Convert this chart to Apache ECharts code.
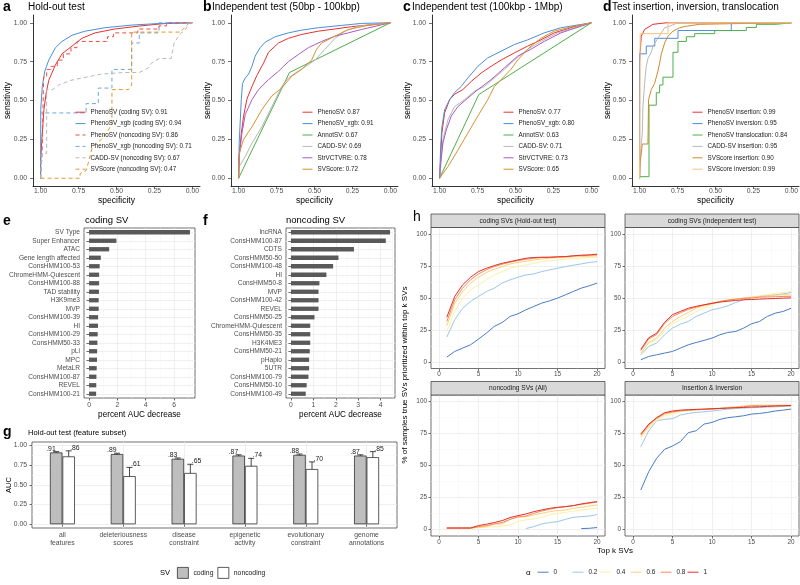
<!DOCTYPE html>
<html><head><meta charset="utf-8">
<script src="https://cdn.jsdelivr.net/npm/echarts@6.0.0/dist/echarts.min.js"></script>
<style>html,body{margin:0;padding:0;background:#fff}#c{width:800px;height:585px}</style>
</head><body><div id="c"></div>
<script>
// ---------------- DATA ----------------
const rocTicks = [0, 0.25, 0.5, 0.75, 1];
// Panel a
const aNames = ['PhenoSV (coding SV): 0.91','PhenoSV_xgb (coding SV): 0.94','PhenoSV (noncoding SV): 0.86','PhenoSV_xgb (noncoding SV): 0.71','CADD-SV (noncoding SV): 0.67','SVScore (noncoding SV): 0.47'];
const a_phenoCoding = [[1,0],[1,0.10],[0.993,0.23],[0.978,0.44],[0.963,0.55],[0.946,0.63],[0.902,0.73],[0.859,0.80],[0.793,0.85],[0.728,0.90],[0.641,0.935],[0.511,0.96],[0.359,0.978],[0.185,0.995],[0,1]];
const a_xgbCoding = [[1,0],[0.999,0.44],[0.989,0.59],[0.972,0.69],[0.946,0.76],[0.902,0.84],[0.859,0.88],[0.793,0.92],[0.707,0.946],[0.576,0.968],[0.402,0.985],[0.207,0.996],[0,1]];
const a_phenoNoncoding = [[1,0],[0.99,0],[0.99,0.16],[0.98,0.16],[0.98,0.65],[0.96,0.65],[0.96,0.70],[0.93,0.70],[0.93,0.72],[0.89,0.72],[0.89,0.76],[0.85,0.76],[0.85,0.80],[0.80,0.80],[0.80,0.84],[0.76,0.84],[0.76,0.88],[0.56,0.88],[0.56,0.91],[0.52,0.91],[0.52,0.935],[0.36,0.935],[0.36,0.96],[0.22,0.96],[0.22,0.98],[0.17,0.98],[0.17,1],[0,1]];
const a_xgbNoncoding = [[1,0],[1,0.42],[0.70,0.42],[0.70,0.48],[0.62,0.48],[0.62,0.58],[0.53,0.58],[0.53,0.70],[0.40,0.70],[0.40,0.87],[0.35,0.87],[0.35,0.935],[0.22,0.935],[0.22,1],[0,1]];
const a_caddNoncoding = [[1,0],[0.99,0],[0.99,0.16],[0.96,0.16],[0.96,0.57],[0.92,0.57],[0.88,0.60],[0.80,0.63],[0.70,0.65],[0.60,0.67],[0.45,0.68],[0.35,0.68],[0.29,0.71],[0.27,0.74],[0.22,0.77],[0.14,0.77],[0.12,0.87],[0.08,0.93],[0.05,0.95],[0.02,1],[0,1]];
const a_svscoreNoncoding = [[1,0],[0.74,0],[0.74,0.03],[0.70,0.05],[0.68,0.12],[0.66,0.20],[0.60,0.25],[0.56,0.30],[0.53,0.35],[0.53,0.57],[0.42,0.57],[0.40,0.60],[0.40,0.94],[0.08,0.94],[0.04,0.98],[0.02,1],[0,1]];
// Panel b
const bNames = ['PhenoSV: 0.87','PhenoSV_xgb: 0.91','AnnotSV: 0.67','CADD-SV: 0.69','StrVCTVRE: 0.78','SVScore: 0.72'];
const b_pheno = [[1,0],[0.996,0.14],[0.982,0.29],[0.967,0.40],[0.945,0.51],[0.912,0.59],[0.880,0.66],[0.836,0.74],[0.803,0.81],[0.737,0.87],[0.672,0.90],[0.584,0.925],[0.475,0.946],[0.365,0.96],[0.256,0.975],[0,1]];
const b_xgb = [[1,0],[0.996,0.23],[0.982,0.51],[0.974,0.61],[0.956,0.645],[0.934,0.67],[0.912,0.72],[0.891,0.785],[0.858,0.84],[0.825,0.875],[0.759,0.91],[0.672,0.935],[0.584,0.953],[0.475,0.968],[0.322,0.983],[0.190,0.996],[0,1]];
const b_annot = [[1,0],[0.665,0.68],[0,1]];
const b_cadd = [[1,0],[0.996,0.075],[0.956,0.14],[0.912,0.226],[0.847,0.33],[0.781,0.46],[0.716,0.59],[0.672,0.645],[0.606,0.69],[0.540,0.73],[0.497,0.76],[0.431,0.83],[0.365,0.90],[0.300,0.946],[0.212,0.978],[0,1]];
const b_strv = [[1,0],[0.996,0.14],[0.978,0.29],[0.956,0.41],[0.912,0.505],[0.869,0.57],[0.803,0.634],[0.737,0.688],[0.672,0.75],[0.606,0.796],[0.540,0.84],[0.453,0.88],[0.365,0.914],[0.278,0.935],[0.190,0.957],[0,1]];
const b_svscore = [[1,0],[0.996,0.16],[0.967,0.25],[0.912,0.33],[0.847,0.44],[0.781,0.53],[0.716,0.58],[0.650,0.656],[0.584,0.70],[0.519,0.76],[0.486,0.83],[0.453,0.87],[0.365,0.914],[0.278,0.957],[0.147,0.983],[0,1]];
// Panel c
const cNames = ['PhenoSV: 0.77','PhenoSV_xgb: 0.80','AnnotSV: 0.63','CADD-SV: 0.71','StrVCTVRE: 0.73','SVScore: 0.65'];
const c_pheno = [[1,0],[0.993,0.12],[0.985,0.29],[0.967,0.42],[0.934,0.505],[0.902,0.54],[0.847,0.57],[0.790,0.624],[0.726,0.677],[0.661,0.72],[0.595,0.76],[0.508,0.806],[0.420,0.85],[0.333,0.89],[0.245,0.935],[0.114,0.974],[0,1]];
const c_xgb = [[1,0],[0.993,0.20],[0.985,0.33],[0.967,0.44],[0.934,0.505],[0.902,0.55],[0.858,0.59],[0.814,0.645],[0.748,0.72],[0.683,0.774],[0.595,0.817],[0.508,0.86],[0.420,0.89],[0.311,0.935],[0.201,0.968],[0,1]];
const c_annot = [[1,0],[0.742,0.538],[0,1]];
const c_cadd = [[1,0],[0.993,0.075],[0.978,0.25],[0.945,0.376],[0.902,0.46],[0.836,0.505],[0.770,0.56],[0.705,0.59],[0.639,0.645],[0.573,0.70],[0.508,0.76],[0.420,0.83],[0.333,0.88],[0.223,0.935],[0.114,0.968],[0,1]];
const c_strv = [[1,0],[0.993,0.097],[0.978,0.226],[0.956,0.31],[0.923,0.40],[0.880,0.46],[0.814,0.516],[0.748,0.57],[0.661,0.634],[0.573,0.71],[0.486,0.785],[0.398,0.83],[0.311,0.88],[0.201,0.935],[0,1]];
const c_svscore = [[1,0],[0.993,0],[0.945,0.075],[0.880,0.18],[0.814,0.29],[0.748,0.40],[0.683,0.505],[0.639,0.59],[0.595,0.634],[0.530,0.70],[0.486,0.76],[0.442,0.806],[0.398,0.85],[0.333,0.90],[0.245,0.946],[0.114,0.978],[0,1]];
// Panel d
const dNames = ['PhenoSV insertion: 0.99','PhenoSV inversion: 0.95','PhenoSV translocation: 0.84','CADD-SV insertion: 0.95','SVScore insertion: 0.90','SVScore inversion: 0.99'];
const d_phenoIns = [[1,0],[1,0.75],[0.996,0.81],[0.989,0.914],[0.967,0.957],[0.912,0.99],[0.824,1],[0,1]];
const d_phenoInv = [[1,0],[1,0.80],[0.956,0.80],[0.956,0.85],[0.90,0.85],[0.90,0.90],[0.747,0.90],[0.747,0.95],[0.396,0.95],[0.396,1],[0,1]];
const d_phenoTra = [[1,0.01],[0.938,0.01],[0.938,0.47],[0.890,0.47],[0.890,0.55],[0.868,0.55],[0.868,0.60],[0.846,0.60],[0.846,0.65],[0.780,0.65],[0.780,0.81],[0.747,0.81],[0.747,0.88],[0.692,0.88],[0.692,0.91],[0.637,0.91],[0.637,0.93],[0.505,0.93],[0.505,0.95],[0.297,0.95],[0.297,0.97],[0.231,0.97],[0.231,0.99],[0.1,0.99],[0.1,1],[0,1]];
const d_caddIns = [[1,0],[0.996,0.12],[0.990,0.21],[0.982,0.29],[0.978,0.46],[0.967,0.61],[0.956,0.72],[0.945,0.77],[0.923,0.81],[0.912,0.85],[0.879,0.90],[0.857,0.935],[0.835,0.968],[0.802,0.978],[0.758,0.996],[0,1]];
const d_svscoreIns = [[1,0],[0.996,0.10],[0.982,0.22],[0.945,0.22],[0.941,0.505],[0.923,0.57],[0.901,0.61],[0.879,0.69],[0.868,0.74],[0.857,0.80],[0.835,0.87],[0.813,0.914],[0.780,0.946],[0.736,0.968],[0.692,0.978],[0.604,0.99],[0.297,0.996],[0,1]];
const d_svscoreInv = [[1,0],[0.996,0],[0.996,0.93],[0.813,0.93],[0.813,1],[0,1]];
// Panel e
const eCats = ['SV Type','Super Enhancer','ATAC','Gene length affected','ConsHMM100-53','ChromeHMM-Quiescent','ConsHMM100-88','TAD stability','H3K9me3','MVP','ConsHMM100-39','HI','ConsHMM100-29','ConsHMM50-33','pLi','MPC','MetaLR','ConsHMM100-87','REVEL','ConsHMM100-21'];
const eVals = [7.12,1.93,1.42,0.83,0.75,0.71,0.71,0.70,0.68,0.68,0.64,0.63,0.61,0.59,0.57,0.56,0.54,0.52,0.51,0.50];
const eTicks = [0,2,4,6];
// Panel f
const fCats = ['lncRNA','ConsHMM100-87','CDTS','ConsHMM50-50','ConsHMM100-48','HI','ConsHMM50-8','MVP','ConsHMM100-42','REVEL','ConsHMM50-25','ChromeHMM-Quiescent','ConsHMM50-35','H3K4ME3','ConsHMM50-21','pHaplo','5UTR','ConsHMM100-79','ConsHMM50-10','ConsHMM100-49'];
const fVals = [4.42,4.23,2.81,2.12,1.88,1.58,1.27,1.23,1.23,1.23,1.05,0.86,0.86,0.86,0.84,0.81,0.81,0.78,0.70,0.66];
const fTicks = [0,1,2,3,4];
// Panel g
const gCats = ['all\nfeatures','deleteriousness\nscores','disease\nconstraint','epigenetic\nactivity','evolutionary\nconstraint','genome\nannotations'];
const gCoding = [0.91,0.89,0.83,0.87,0.88,0.87];
const gCodingLo = [0.90,0.88,0.82,0.86,0.87,0.86];
const gCodingHi = [0.92,0.90,0.84,0.88,0.89,0.88];
const gNoncoding = [0.86,0.61,0.65,0.74,0.70,0.85];
const gNoncodingLo = [0.785,0.50,0.54,0.66,0.61,0.78];
const gNoncodingHi = [0.93,0.72,0.76,0.835,0.79,0.92];
const gTicks = [0,0.25,0.5,0.75,1];
// Panel h
const hK = [1,2,3,4,5,6,7,8,9,10,11,12,13,14,15,16,17,18,19,20];
const hAlphas = ['0','0.2','0.4','0.6','0.8','1'];
const hFacets = ['coding SVs (Hold-out test)','coding SVs (Independent test)','noncoding SVs (All)','Insertion & Inversion'];
const hXTicks = [0,5,10,15,20];
const hYTicks = [0,25,50,75,100];
const hold_a0 = [3.9,8.3,10.9,13.5,17.9,22.6,27.8,30.9,35.6,37.7,40.8,43.4,46,47.8,49.9,52.5,55.1,57.7,59.5,61.6];
const hold_a02 = [19.5,33,42,47.3,51.2,55,57.7,61.6,64.2,66.2,68,68.8,70.6,72,73.2,74.5,75.6,76.6,77.7,78.4];
const hold_a04 = [24,39.5,49.9,56.4,60.3,64.2,68,70.6,73.2,74.5,75.8,77.1,78.4,79.2,79.7,80.3,80.5,81,81.6,81.8];
const hold_a06 = [28.3,46,55,61.6,66.2,69.9,72.5,74.5,76.6,77.7,78.7,79.7,80.5,81,81.6,81.8,82.1,82.3,82.6,82.9];
const hold_a08 = [31.7,48.6,57.7,64.2,68.8,72,74.5,76.4,77.9,79.2,80.3,81,81.6,81.8,82.1,82.3,82.9,83.1,83.4,83.6];
const hold_a1 = [35,51.2,60.3,66.2,70.6,73.2,75.3,77.1,78.4,79.7,81,81.6,81.8,81.8,82.1,82.3,82.9,83.4,83.6,84.2];
const indep_a0 = [1.8,4.4,5.7,7,8.3,10.9,13.5,15.3,16.9,18.7,21.3,23.1,23.9,26.5,29.9,31.7,35.6,38.2,39.5,42];
const indep_a02 = [5.7,12.2,14.8,21.3,26.5,29.6,31.7,35.6,38.2,40.8,42.1,43.9,46.5,48.6,49.9,51.2,51.7,52.5,53.2,54.3];
const indep_a04 = [6.5,14.8,17.4,23.9,29.9,33,35.6,39.5,42.1,44.7,47.3,47.8,49.1,49.9,50.6,51.7,52.5,53.8,54.3,55.1];
const indep_a06 = [7,15.3,18.7,26.5,31.7,35.6,38.7,42.1,43.9,45.5,47.3,48.6,49.4,50.1,50.6,51.2,51.7,52.2,52.5,52.5];
const indep_a08 = [9,18,21.5,30,35.5,38.5,41,43,44.6,46,47.3,48.3,49.1,49.6,50.1,50.6,50.8,51,51.2,51.3];
const indep_a1 = [10,19,22.5,31,37,39.5,42,43.5,44.7,45.8,46.8,47.5,48.1,48.6,48.8,49.1,49.4,49.6,49.9,50.1];
const nonc_a0 = [null,null,null,null,null,null,null,null,null,null,null,null,null,null,null,null,null,0.8,1,1.6];
const nonc_a02 = [null,null,null,null,null,null,null,null,null,null,0.8,2.3,4.4,5.5,6.2,8,9.6,10.1,10.6,11.7];
const nonc_a04 = [1,1,1,1,1.5,2,2.3,2.8,3.5,6.5,7.5,8.5,9.5,11.5,12.5,13.5,14.5,15.3,16,16.6];
const nonc_a06 = [1.3,1.3,1.3,1.3,1.8,2.3,4.4,4.4,8,9.6,10.1,11.4,12.7,14,14.8,15.3,16.6,17.4,18.4,19.2];
const nonc_a08 = [1,1,1,1,2.3,3.1,4.4,5.5,8,10,10.6,12.7,14.5,15.8,17.1,17.9,18.7,19.7,20.5,21.6];
const nonc_a1 = [1.3,1.3,1.3,1.3,3.1,4.2,5.5,7,9.4,10.9,12.2,14,15.3,16.6,17.4,17.9,18.7,20,21,21.8];
const insinv_a0 = [30.9,45.2,55.6,62.6,65.2,68.6,75.6,77.1,82.3,83.6,86,87.3,88,88.8,90.1,90.6,91.4,92.5,93.2,94];
const insinv_a02 = [64.7,77.1,84.9,86,86.5,89.4,90.6,91.4,91.9,92.5,93.2,94,94.5,94.8,95.1,95.3,95.6,95.8,96.1,96.4];
const insinv_a04 = [71.2,79,84.9,88.6,90.1,91.9,92.7,93.2,93.8,94,94.5,94.8,95.3,95.8,96.4,96.6,96.6,96.6,96.6,96.6];
const insinv_a06 = [72.5,80.3,86.2,89.9,91.4,92.5,93.2,93.5,93.8,94.3,94.8,95.3,95.8,96.4,96.9,97.1,97.1,97.1,97.1,97.1];
const insinv_a08 = [73.8,81.6,86.8,90.6,91.9,92.7,93.2,93.5,93.8,94,94.5,94.8,95.3,95.8,96.6,96.6,96.6,96.6,96.6,96.6];
const insinv_a1 = [74.5,82.3,87.3,91.2,92.5,93.2,93.5,93.8,94,94.3,94.5,94.8,95.1,95.3,95.6,95.8,96.1,96.4,96.6,96.9];

// ---------------- BUILD ----------------
const FONT = '"Liberation Sans", Arial, Helvetica, sans-serif';
const grids = [], xAxes = [], yAxes = [], series = [], legends = [], graphics = [];
const addGrid = g => (grids.push(Object.assign({outerBoundsMode:'none', containLabel:false}, g)), grids.length - 1);
const addX = a => (xAxes.push(a), xAxes.length - 1);
const addY = a => (yAxes.push(a), yAxes.length - 1);

function valAxis(o) {
  return {
    type: 'value', gridIndex: o.grid, min: o.min, max: o.max, inverse: !!o.inverse, position: o.position,
    axisLine: {show: !!o.line, onZero: false, lineStyle: {color: '#000', width: 0.8}},
    axisTick: {show: o.ticks !== false, length: o.tickLen || 3, customValues: o.at, lineStyle: {color: '#333', width: 0.7}},
    axisLabel: {show: o.labels !== false, customValues: o.at, formatter: o.fmt, fontSize: o.fs || 6.8, color: '#4D4D4D', margin: o.margin || 4, fontFamily: FONT},
    splitLine: {show: !!o.split, lineStyle: {color: o.splitColor || '#EBEBEB', width: o.splitWidth || 0.8}},
    minorSplitLine: {show: false}
  };
}
function txt(x, y, text, o) {
  o = o || {};
  graphics.push({type: 'text', x: x, y: y, rotation: o.rot || 0, silent: true, z: 100,
    style: {text: text, fontSize: o.fs || 8, fontFamily: FONT, fontWeight: o.bold ? 'bold' : 'normal', fill: o.color || '#1A1A1A',
      align: o.align || 'left', verticalAlign: o.va || 'middle', textAlign: o.align || 'left', textVerticalAlign: o.va || 'middle'}});
}
const legendCommon = {orient: 'vertical', itemWidth: 10, itemHeight: 8, itemGap: 5, padding: 0, selectedMode: false,
  textStyle: {fontSize: 6.3, color: '#1A1A1A', fontFamily: FONT}, itemStyle: {opacity: 0}, lineStyle: {width: 1}};

// ROC panels
const rocLeft = [33, 231, 432, 632];
const RED = '#E8302F', BLUE = '#4A8FD8', GREEN = '#4DAF4A', GRAY = '#B8B8B8', PURPLE = '#A85CC4', ORANGE = '#D69230';
const DASH = [4, 3];
function rocPanel(p, curves, names, legendLeft) {
  const gi = addGrid({left: rocLeft[p], top: 15, width: 167, height: 171, show: false});
  const xi = addX(valAxis({grid: gi, min: -0.05, max: 1.05, inverse: true, line: true, at: rocTicks, fmt: v => v.toFixed(2), margin: 2}));
  const yi = addY(valAxis({grid: gi, min: -0.05, max: 1.05, line: true, at: rocTicks, fmt: v => v.toFixed(2), margin: 6}));
  curves.forEach((c, i) => series.push({type: 'line', name: names[i], xAxisIndex: xi, yAxisIndex: yi, data: c.data,
    symbol: 'none', showSymbol: false, silent: true, animation: false,
    lineStyle: {color: c.color, width: 1, type: c.dash ? DASH : 'solid'}, itemStyle: {color: c.color}}));
  legends.push(Object.assign({}, legendCommon, {left: legendLeft, top: 109, data: names}));
}
rocPanel(0, [
  {data: a_phenoCoding, color: RED}, {data: a_xgbCoding, color: BLUE},
  {data: a_phenoNoncoding, color: '#F04B45', dash: true}, {data: a_xgbNoncoding, color: '#6FA8DC', dash: true},
  {data: a_caddNoncoding, color: GRAY, dash: true}, {data: a_svscoreNoncoding, color: '#DB9A2C', dash: true}], aNames, 75);
rocPanel(1, [{data: b_pheno, color: RED}, {data: b_xgb, color: BLUE}, {data: b_annot, color: GREEN},
  {data: b_cadd, color: GRAY}, {data: b_strv, color: PURPLE}, {data: b_svscore, color: ORANGE}], bNames, 302);
rocPanel(2, [{data: c_pheno, color: RED}, {data: c_xgb, color: BLUE}, {data: c_annot, color: GREEN},
  {data: c_cadd, color: GRAY}, {data: c_strv, color: PURPLE}, {data: c_svscore, color: ORANGE}], cNames, 503);
rocPanel(3, [{data: d_phenoIns, color: RED}, {data: d_phenoInv, color: BLUE}, {data: d_phenoTra, color: GREEN},
  {data: d_caddIns, color: GRAY}, {data: d_svscoreIns, color: '#CF8A2C'}, {data: d_svscoreInv, color: '#FDC27A'}], dNames, 692);

// Importance panels e, f
function importancePanel(left, width, cats, vals, min, max, ticks, minors) {
  const gi = addGrid({left: left, top: 228, width: width, height: 170, show: true, borderColor: '#333', borderWidth: 0.7, backgroundColor: '#fff'});
  const xi = addX(valAxis({grid: gi, min: min, max: max, at: ticks, fmt: v => String(v), split: true, tickLen: 2.5, margin: 4}));
  addX(valAxis({grid: gi, min: min, max: max, position: 'top', at: minors, labels: false, ticks: false, split: true, splitColor: '#F4F4F4', splitWidth: 0.5}));
  const yi = addY({type: 'category', gridIndex: gi, data: cats, inverse: true,
    axisLine: {show: false}, axisTick: {show: true, alignWithLabel: true, length: 2.5, lineStyle: {color: '#333', width: 0.7}},
    axisLabel: {interval: 0, fontSize: 6.6, color: '#4D4D4D', margin: 4, fontFamily: FONT}, splitLine: {show: false}});
  addY(valAxis({grid: gi, min: -0.5, max: cats.length - 0.5, inverse: true, position: 'right', at: cats.map((c, i) => i), labels: false, ticks: false, split: true}));
  series.push({type: 'bar', xAxisIndex: xi, yAxisIndex: yi, data: vals, barWidth: 4.3, silent: true, animation: false, itemStyle: {color: '#595959'}});
}
importancePanel(84, 111, eCats, eVals, -0.356, 7.476, eTicks, [1, 3, 5, 7]);
importancePanel(286, 109, fCats, fVals, -0.221, 4.641, fTicks, [0.5, 1.5, 2.5, 3.5, 4.5]);

// Panel g
const BAR_W = 12.5;
(function () {
  const gi = addGrid({left: 32, top: 442, width: 365, height: 86, show: true, borderColor: '#333', borderWidth: 0.7, backgroundColor: '#fff'});
  const xi = addX({type: 'category', gridIndex: gi, data: gCats, axisLine: {show: false},
    axisTick: {show: true, alignWithLabel: true, length: 2.5, lineStyle: {color: '#333', width: 0.7}},
    axisLabel: {interval: 0, fontSize: 6.8, lineHeight: 7.5, color: '#4D4D4D', margin: 3.5, fontFamily: FONT}, splitLine: {show: false}});
  addX(valAxis({grid: gi, min: -0.5, max: gCats.length - 0.5, position: 'top', at: gCats.map((c, i) => i), labels: false, ticks: false, split: true}));
  const yi = addY(valAxis({grid: gi, min: -0.047, max: 1.042, at: gTicks, fmt: v => v.toFixed(2), split: true, tickLen: 2.5, margin: 5}));
  addY(valAxis({grid: gi, min: -0.047, max: 1.042, position: 'right', at: [0.125, 0.375, 0.625, 0.875], labels: false, ticks: false, split: true, splitColor: '#F4F4F4', splitWidth: 0.5}));
  series.push({type: 'bar', name: 'coding', xAxisIndex: xi, yAxisIndex: yi, data: gCoding, barWidth: BAR_W, barGap: '0%', silent: true, animation: false,
    itemStyle: {color: '#BEBEBE', borderColor: '#333', borderWidth: 0.8}});
  series.push({type: 'bar', name: 'noncoding', xAxisIndex: xi, yAxisIndex: yi, data: gNoncoding, barWidth: BAR_W, barGap: '0%', silent: true, animation: false,
    itemStyle: {color: '#FFFFFF', borderColor: '#333', borderWidth: 0.8}});
  function errRender(side) {
    return function (params, api) {
      const i = api.value(0), m = api.value(1), lo = api.value(2), hi = api.value(3);
      const pLo = api.coord([i, lo]), pHi = api.coord([i, hi]);
      const cx = pLo[0] + side * BAR_W / 2;
      const cap = 3;
      const ls = {stroke: '#1A1A1A', lineWidth: 0.8};
      const lab = '.' + String(Math.round(m * 100)).padStart(2, '0');
      return {type: 'group', children: [
        {type: 'line', shape: {x1: cx, y1: pLo[1], x2: cx, y2: pHi[1]}, style: ls},
        {type: 'line', shape: {x1: cx - cap, y1: pLo[1], x2: cx + cap, y2: pLo[1]}, style: ls},
        {type: 'line', shape: {x1: cx - cap, y1: pHi[1], x2: cx + cap, y2: pHi[1]}, style: ls},
        {type: 'text', x: side < 0 ? cx - 0.5 : cx + 1.5, y: pHi[1] + 0.5,
          style: {text: lab, fontSize: 6.8, fontFamily: FONT, fill: '#1A1A1A', align: side < 0 ? 'right' : 'left', verticalAlign: 'bottom'}}
      ]};
    };
  }
  series.push({type: 'custom', xAxisIndex: xi, yAxisIndex: yi, silent: true, animation: false, renderItem: errRender(-1),
    data: gCoding.map((v, i) => [i, v, gCodingLo[i], gCodingHi[i]])});
  series.push({type: 'custom', xAxisIndex: xi, yAxisIndex: yi, silent: true, animation: false, renderItem: errRender(1),
    data: gNoncoding.map((v, i) => [i, v, gNoncodingLo[i], gNoncodingHi[i]])});
  legends.push({orient: 'horizontal', left: 177, top: 567, itemWidth: 11, itemHeight: 11, itemGap: 4, padding: 0, selectedMode: false, icon: 'rect',
    textStyle: {fontSize: 6.8, color: '#1A1A1A', fontFamily: FONT},
    data: [{name: 'coding', itemStyle: {color: '#BEBEBE', borderColor: '#333', borderWidth: 0.8}},
           {name: 'noncoding', itemStyle: {color: '#FFFFFF', borderColor: '#333', borderWidth: 0.8}}]});
})();

// Panel h
const alphaColors = ['#4A7CC6', '#9CC7E6', '#FFF1A6', '#FDD07E', '#F58A5B', '#E0302A'];
const hData = [
  [hold_a0, hold_a02, hold_a04, hold_a06, hold_a08, hold_a1],
  [indep_a0, indep_a02, indep_a04, indep_a06, indep_a08, indep_a1],
  [nonc_a0, nonc_a02, nonc_a04, nonc_a06, nonc_a08, nonc_a1],
  [insinv_a0, insinv_a02, insinv_a04, insinv_a06, insinv_a08, insinv_a1]];
const hPos = [[431, 227.5], [625, 227.5], [431, 395], [625, 395]];
hData.forEach((facet, fi) => {
  const [L, T] = hPos[fi];
  const gi = addGrid({left: L, top: T, width: 174, height: 141, show: true, borderColor: '#333', borderWidth: 0.7, backgroundColor: '#fff'});
  const xi = addX(valAxis({grid: gi, min: -1, max: 21, at: hXTicks, fmt: v => String(v), split: true, tickLen: 2.5, margin: 3, fs: 6.4}));
  addX(valAxis({grid: gi, min: -1, max: 21, position: 'top', at: [2.5, 7.5, 12.5, 17.5], labels: false, ticks: false, split: true, splitColor: '#F4F4F4', splitWidth: 0.5}));
  const yi = addY(valAxis({grid: gi, min: -5, max: 105, at: hYTicks, fmt: v => String(v), split: true, tickLen: 2.5, margin: 4, fs: 6.4}));
  addY(valAxis({grid: gi, min: -5, max: 105, position: 'right', at: [12.5, 37.5, 62.5, 87.5], labels: false, ticks: false, split: true, splitColor: '#F4F4F4', splitWidth: 0.5}));
  facet.forEach((vals, ai) => {
    const pts = [];
    vals.forEach((v, k) => { if (v !== null) pts.push([hK[k], v]); });
    series.push({type: 'line', name: hAlphas[ai], xAxisIndex: xi, yAxisIndex: yi, data: pts, symbol: 'none', showSymbol: false,
      silent: true, animation: false, lineStyle: {color: alphaColors[ai], width: 1}, itemStyle: {color: alphaColors[ai]}});
  });
  graphics.push({type: 'rect', silent: true, z: 50, shape: {x: L, y: T - 13.5, width: 174, height: 13.5},
    style: {fill: '#D9D9D9', stroke: '#333', lineWidth: 0.7}});
  txt(L + 87, T - 6.75, hFacets[fi], {fs: 6.6, align: 'center'});
});
const hLegendLeft = [537, 572, 600, 630, 660, 687];
hAlphas.forEach((a, i) => legends.push({orient: 'horizontal', left: hLegendLeft[i], top: 569, itemWidth: 11, itemHeight: 8, padding: 0,
  selectedMode: false, data: [a], textStyle: {fontSize: 6.4, color: '#1A1A1A', fontFamily: FONT}, itemStyle: {opacity: 0}, lineStyle: {width: 1}}));

// ---------------- TEXT ----------------
const rocTitles = ['Hold-out test', 'Independent test (50bp - 100kbp)', 'Independent test (100kbp - 1Mbp)', 'Test insertion, inversion, translocation'];
const rocLetters = ['a', 'b', 'c', 'd'];
rocLeft.forEach((L, i) => {
  const off = i * 200;
  txt(off + 3, 7, rocLetters[i], {fs: 14, bold: true, color: '#000'});
  txt(i === 0 ? 28 : off + 12, 7, rocTitles[i], {fs: 10, color: '#000'});
  txt(off + 8, 100.5, 'sensitivity', {fs: 8.5, rot: Math.PI / 2, align: 'center', color: '#000'});
  txt(L + 83.5, 201, 'specificity', {fs: 8.5, align: 'center', color: '#000'});
});
txt(3, 221, 'e', {fs: 14, bold: true, color: '#000'});
txt(85, 220, 'coding SV', {fs: 9.5, color: '#000'});
txt(139.5, 415, 'percent AUC decrease', {fs: 8.2, align: 'center', color: '#000'});
txt(203, 221, 'f', {fs: 14, bold: true, color: '#000'});
txt(286, 220, 'noncoding SV', {fs: 9.5, color: '#000'});
txt(340.5, 415, 'percent AUC decrease', {fs: 8.2, align: 'center', color: '#000'});
txt(3, 432, 'g', {fs: 14, bold: true, color: '#000'});
txt(28, 433, 'Hold-out test (feature subset)', {fs: 7.6, color: '#000'});
txt(8.5, 485, 'AUC', {fs: 7.5, rot: Math.PI / 2, align: 'center', color: '#000'});
txt(160, 573, 'SV', {fs: 7.5, color: '#000'});
txt(413, 217, 'h', {fs: 14, color: '#000'});
txt(405, 375, '% of samples true SVs prioritized within top k SVs', {fs: 8, rot: Math.PI / 2, align: 'center', color: '#000'});
txt(615, 551, 'Top k SVs', {fs: 8, align: 'center', color: '#000'});
txt(526, 573, 'α', {fs: 8, color: '#000'});

const chart = echarts.init(document.getElementById('c'), null, {renderer: 'canvas'});
chart.setOption({
  animation: false,
  backgroundColor: '#fff',
  textStyle: {fontFamily: FONT},
  grid: grids, xAxis: xAxes, yAxis: yAxes, series: series, legend: legends, graphic: graphics
});
</script></body></html>
